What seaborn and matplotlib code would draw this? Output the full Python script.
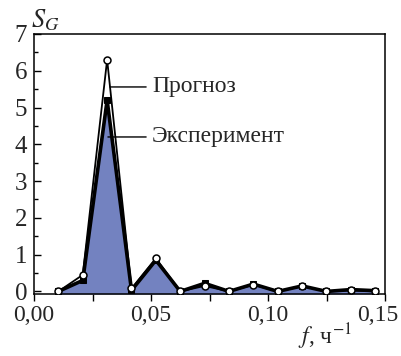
import numpy as np
import pandas as pd
import seaborn as sns
import matplotlib.pyplot as plt
import matplotlib.transforms as mtransforms
from matplotlib.ticker import MultipleLocator

# frequencies, 1/h (k/96)
freq = [1/96, 2/96, 3/96, 4/96, 5/96, 6/96, 7/96, 8/96, 9/96, 10/96, 11/96, 12/96, 13/96, 14/96]
prognoz = [0.0, 0.45, 6.3, 0.08, 0.9, 0.0, 0.15, 0.0, 0.18, 0.0, 0.14, 0.0, 0.03, 0.0]
experiment = [0.0, 0.3, 5.2, 0.03, 0.85, 0.0, 0.22, 0.0, 0.2, 0.0, 0.15, 0.0, 0.05, 0.02]

xticks = [0.0, 0.05, 0.10, 0.15]
xticklabels = ['0,00', '0,05', '0,10', '0,15']

df = pd.DataFrame({'f': freq, 'prog': prognoz, 'exp': experiment})

sns.set_style('ticks')
plt.rcParams['font.family'] = ['Liberation Serif', 'DejaVu Serif']
plt.rcParams['mathtext.fontset'] = 'stix'

fig = plt.figure(figsize=(4.02, 3.56), dpi=100)
ax = fig.add_axes([34/402, 1-294/356, 351/402, 260/356])

ax.fill_between(df['f'], df['exp'], -0.07, color='#7382c0', lw=0, zorder=1)
sns.lineplot(data=df, x='f', y='exp', color='black', lw=2.6, marker='s',
             markersize=5, markeredgecolor='black', ax=ax, zorder=2)
sns.lineplot(data=df, x='f', y='prog', color='black', lw=1.3, marker='o',
             markersize=5, markerfacecolor='white', markeredgecolor='black',
             markeredgewidth=1.1, ax=ax, zorder=3)

ax.set_xlim(0, 0.15)
ax.set_ylim(-0.07, 7)
ax.set_xticks(xticks)
ax.set_xticklabels(xticklabels)
ax.xaxis.set_minor_locator(MultipleLocator(0.025))
ax.yaxis.set_major_locator(MultipleLocator(1))
ax.yaxis.set_minor_locator(MultipleLocator(0.5))
ax.tick_params(axis='x', which='both', direction='out', length=5, width=1,
               labelsize=17, pad=3, color='black')
ax.tick_params(axis='y', which='major', direction='in', length=5, width=1,
               labelsize=18, pad=5, color='black')
ax.tick_params(axis='y', which='minor', direction='in', length=3, width=1, color='black')
for s in ax.spines.values():
    s.set_linewidth(1.1)
    s.set_color('black')
ax.set_xlabel('')
ax.set_ylabel('')

# keep the last x label inside the figure
last = ax.get_xticklabels()[-1]
last.set_transform(last.get_transform() +
                   mtransforms.ScaledTranslation(-0.07, 0, fig.dpi_scale_trans))

ax.annotate('Прогноз', xy=(0.0325, 5.56), xytext=(0.0505, 5.56), fontsize=17,
            va='center', arrowprops=dict(arrowstyle='-', color='black', lw=1,
                                         shrinkA=2, shrinkB=0))
ax.annotate('Эксперимент', xy=(0.0316, 4.2), xytext=(0.0505, 4.2), fontsize=17,
            va='center', arrowprops=dict(arrowstyle='-', color='black', lw=1,
                                         shrinkA=2, shrinkB=0))

fig.text(31/402, 1-20/356, '$S_G$', fontsize=19, va='center', ha='left')
fig.text(298/402, 1-337/356, '$f$, ч$^{-1}$', fontsize=17, va='center', ha='left')

fig.savefig('out.png', dpi=100)
